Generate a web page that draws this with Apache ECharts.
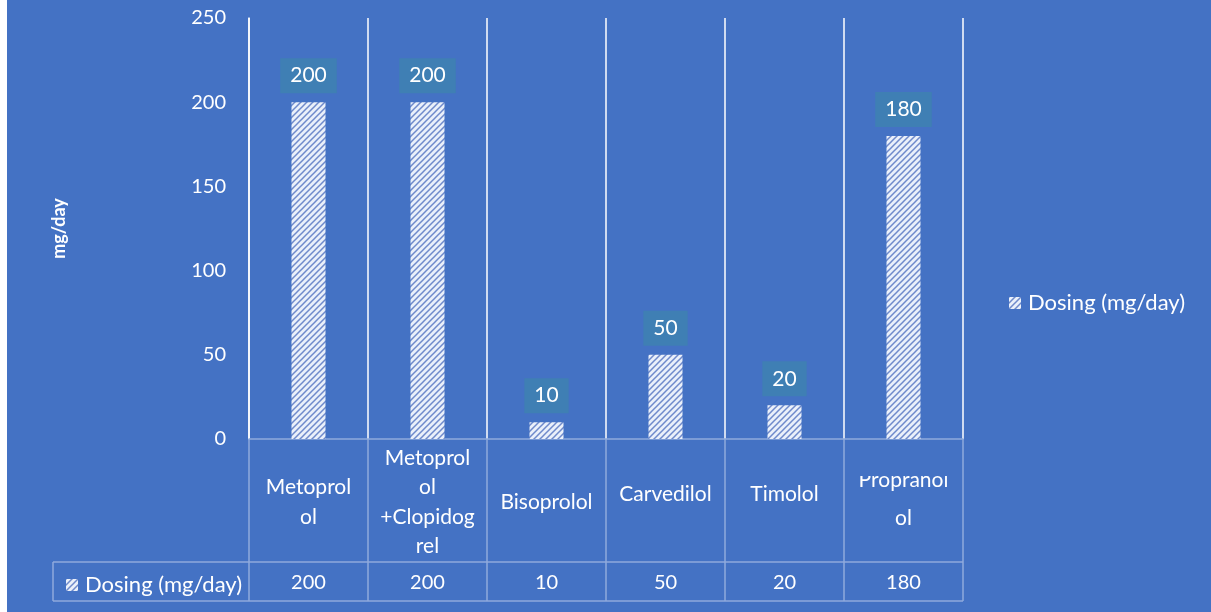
<!DOCTYPE html>
<html>
<head>
<meta charset="utf-8">
<script src="https://cdn.jsdelivr.net/npm/echarts@6/dist/echarts.min.js"></script>
<style>
  html, body { margin: 0; padding: 0; background: #ffffff; }
  #chartMain { position: absolute; left: 7px; top: 0; width: 1204px; height: 612px; background: #4472C4; }
</style>
</head>
<body>
<div id="chartMain"></div>
<script>
var categories = ['Metoprolol', 'Metoprolol +Clopidogrel', 'Bisoprolol', 'Carvedilol', 'Timolol', 'Propranolol'];
var catLabels = ['Metoprol\nol', 'Metoprol\nol\n+Clopidog\nrel', 'Bisoprolol', 'Carvedilol', 'Timolol', 'Propranol\nol'];
var dosing = [200, 200, 10, 50, 20, 180];
var yTicks = [0, 50, 100, 150, 200, 250];
var seriesName = 'Dosing (mg/day)';

var FONT = 'Lato, "Open Sans", sans-serif';
var BORDER = '#8FAADC';
var BG = '#4472C4';

// hatched fill like the office pattern fill
function makeHatch() {
    var c = document.createElement('canvas');
    c.width = 6; c.height = 6;
    var ctx = c.getContext('2d');
    ctx.fillStyle = '#EAF0FA';
    ctx.fillRect(0, 0, 6, 6);
    ctx.strokeStyle = '#6F8ACB';
    ctx.lineWidth = 1.5;
    ctx.beginPath();
    ctx.moveTo(-1, 7); ctx.lineTo(7, -1);
    ctx.moveTo(-4, 4); ctx.lineTo(4, -4);
    ctx.moveTo(2, 10); ctx.lineTo(10, 2);
    ctx.stroke();
    return c;
}
var hatch = { image: makeHatch(), repeat: 'repeat' };

// per-label tweaks of the office layout (rich styles)
function catFormatter(v, i) {
    var t = catLabels[i];
    if (t.indexOf('Propranol') === 0) return '{p|' + t + '}';
    if (t === 'Carvedilol' || t === 'Timolol') return '{u|' + t + '}';
    return '{n|' + t + '}';
}

var myChart = echarts.init(document.getElementById('chartMain'));

var legendBase = {
    data: [seriesName],
    icon: 'rect',
    itemWidth: 12,
    itemHeight: 12,
    itemGap: 10,
    selectedMode: false,
    textStyle: { color: '#ffffff', fontSize: 22, fontFamily: FONT, padding: [0, 0, 0, 2] }
};

var option = {
    backgroundColor: BG,
    textStyle: { fontFamily: FONT },
    legend: [
        Object.assign({}, legendBase, { left: 997, top: 287 }),
        Object.assign({}, legendBase, { left: 54, top: 569 })
    ],
    grid: {
        left: 242,
        right: 248,
        top: 18,
        bottom: 173
    },
    xAxis: [
        {
            type: 'category',
            data: categories,
            axisLine: { show: true, lineStyle: { color: BORDER, width: 1.5 } },
            axisTick: { show: true, length: 162, lineStyle: { color: BORDER, width: 1.5 } },
            splitLine: { show: true, lineStyle: { color: '#ffffff', width: 1.5 } },
            axisLabel: {
                interval: 0,
                color: '#ffffff',
                fontSize: 21,
                fontFamily: FONT,
                verticalAlign: 'middle',
                margin: 63,
                formatter: catFormatter,
                rich: {
                    n: { color: '#ffffff', fontSize: 21, lineHeight: 29.5, fontFamily: FONT },
                    u: { color: '#ffffff', fontSize: 21, lineHeight: 29.5, fontFamily: FONT, padding: [0, 0, 16, 0] },
                    p: { color: '#ffffff', fontSize: 21, lineHeight: 38, fontFamily: FONT, padding: [0, 0, 6, 0] }
                }
            }
        },
        {
            type: 'category',
            data: categories,
            position: 'bottom',
            offset: 144,
            axisLine: { show: false },
            axisTick: { show: false },
            splitLine: { show: false },
            axisLabel: {
                interval: 0,
                color: '#ffffff',
                fontSize: 20,
                fontFamily: FONT,
                verticalAlign: 'middle',
                margin: 0,
                formatter: function (v, i) { return String(dosing[i]); }
            }
        }
    ],
    yAxis: {
        type: 'value',
        min: yTicks[0],
        max: yTicks[yTicks.length - 1],
        interval: yTicks[1] - yTicks[0],
        name: 'mg/day',
        nameLocation: 'middle',
        nameGap: 181,
        nameTextStyle: { color: '#ffffff', fontSize: 18, fontWeight: 'bold', fontFamily: FONT },
        axisLine: { show: true, lineStyle: { color: '#ffffff', width: 1.5 } },
        axisTick: { show: false },
        splitLine: { show: false },
        axisLabel: { color: '#ffffff', fontSize: 20, margin: 23, fontFamily: FONT }
    },
    graphic: [
        { type: 'line', z: 100, shape: { x1: 46, y1: 562, x2: 956, y2: 562 }, style: { stroke: BORDER, lineWidth: 1.5 } },
        { type: 'line', z: 100, shape: { x1: 46, y1: 601, x2: 956, y2: 601 }, style: { stroke: BORDER, lineWidth: 1.5 } },
        { type: 'line', z: 100, shape: { x1: 46, y1: 562, x2: 46, y2: 601 }, style: { stroke: BORDER, lineWidth: 1.5 } },
        // text box clipping of the last category label
        { type: 'rect', z: 90, shape: { x: 839, y: 441, width: 116, height: 35 }, style: { fill: BG } }
    ],
    series: [
        {
            name: seriesName,
            type: 'bar',
            barWidth: 34,
            data: dosing,
            itemStyle: { color: hatch },
            label: {
                show: true,
                position: 'top',
                distance: 9,
                color: '#ffffff',
                fontSize: 21,
                fontFamily: FONT,
                backgroundColor: '#3F7FB4',
                padding: [7, 10, 7, 10]
            }
        }
    ]
};

myChart.setOption(option);
</script>
</body>
</html>
